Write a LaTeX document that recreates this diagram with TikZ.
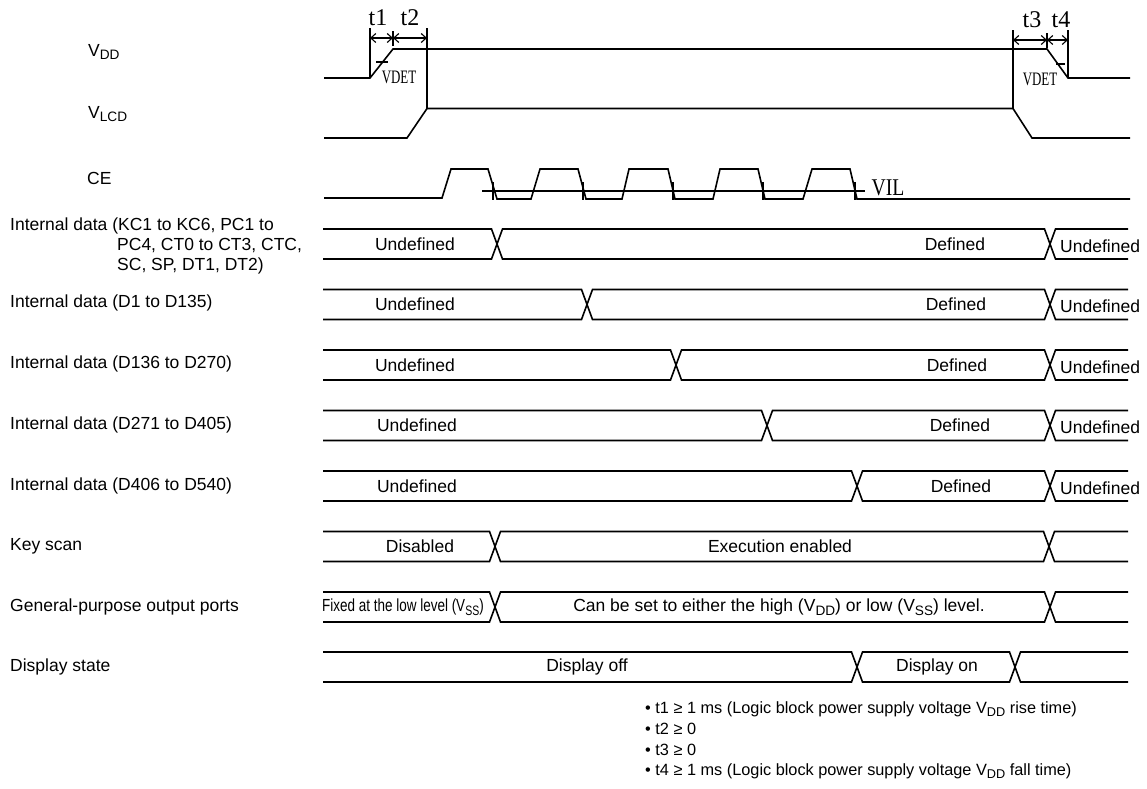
\documentclass[tikz,border=0pt]{standalone}
\usepackage{fontspec}
\setmainfont{Liberation Sans}
\newfontfamily\serifcond{Liberation Serif}
\usepackage{graphicx}
\usetikzlibrary{arrows.meta}
\newcommand\subs[1]{\raisebox{-0.22em}{\scalebox{0.78}{#1}}}
\newcommand\busrow[3]{%
 \draw[sig] (323,#1) -- ({#2-5.5},#1) -- ({#2+5.5},{#1+30}) -- ({#3-5.5},{#1+30}) -- ({#3+5.5},#1) -- (1128,#1);
 \draw[sig] (323,{#1+30}) -- ({#2-5.5},{#1+30}) -- ({#2+5.5},#1) -- ({#3-5.5},#1) -- ({#3+5.5},{#1+30}) -- (1128,{#1+30});}
\tikzset{
 sig/.style={line width=1.6pt, line join=miter},
 guide/.style={line width=1.1pt},
 lab/.style={inner sep=0pt, font=\fontsize{17.5}{21}\selectfont},
 lbl/.style={lab, anchor=west},
 note/.style={inner sep=0pt, anchor=west, font=\fontsize{16.3}{19}\selectfont},
 tlab/.style={inner sep=0pt, font=\serifcond\fontsize{24}{24}\selectfont},
 vdet/.style={inner sep=0pt, font=\serifcond\fontsize{19}{19}\selectfont},
 dim/.style={line width=1.1pt, {Straight Barb[length=5pt,width=9pt]}-{Straight Barb[length=5pt,width=9pt]}},
}
\begin{document}
\begin{tikzpicture}[x=1pt,y=-1pt]
\useasboundingbox (0,0) rectangle (1147,788);
% left labels
\node[lbl] (lvdd) at (88,52) {V\subs{DD}};
\node[lbl] (lvlcd) at (88,114) {V\subs{LCD}};
\node[lbl] (lce) at (87,178) {CE};
\node[lbl] (lkc1) at (10,226) {Internal data (KC1 to KC6, PC1 to};
\node[lbl] (lkc2) at (117,246) {PC4, CT0 to CT3, CTC,};
\node[lbl] (lkc3) at (117,266) {SC, SP, DT1, DT2)};
\node[lbl] (ld1) at (10,303) {Internal data (D1 to D135)};
\node[lbl] (ld2) at (10,364) {Internal data (D136 to D270)};
\node[lbl] (ld3) at (10,425) {Internal data (D271 to D405)};
\node[lbl] (ld4) at (10,486) {Internal data (D406 to D540)};
\node[lbl] (lks) at (10,546) {Key scan};
\node[lbl] (lgp) at (10,607) {General-purpose output ports};
\node[lbl] (lds) at (10,667) {Display state};
% VDD and VLCD
\draw[sig] (324,78) -- (370,78) -- (393,49) -- (1047,49) -- (1068,78) -- (1130,78);
\draw[sig] (324,138) -- (407,138) -- (427,108.5) -- (1013,108.5) -- (1032,138) -- (1130,138);
% timing marks
\draw[guide] (370,28) -- (370,78);
\draw[guide] (427,28) -- (427,108.5);
\draw[guide] (393,31) -- (393,46);
\draw[dim] (370,38) -- (393,38);
\draw[dim] (393,38) -- (427,38);
\draw[guide] (1013,30) -- (1013,108.5);
\draw[guide] (1068,30) -- (1068,78);
\draw[guide] (1047,33) -- (1047,48);
\draw[dim] (1013,40) -- (1047,40);
\draw[dim] (1047,40) -- (1068,40);
\draw[guide] (376,62) -- (388,62);
\draw[guide] (1056,64) -- (1065,64);
\node[tlab] (t1) at (378,18) {t1};
\node[tlab] (t2) at (410,18) {t2};
\node[tlab] (t3) at (1032,20) {t3};
\node[tlab] (t4) at (1061,20) {t4};
\node[vdet] (vdetl) at (399,77) {\scalebox{0.68}[1]{VDET}};
\node[vdet] (vdetr) at (1040,79) {\scalebox{0.68}[1]{VDET}};
% CE
\draw[sig] (324,198) -- (442,198) -- (451,169) -- (488,169) -- (497,199) -- (531,199) -- (540,169) -- (578,169) -- (586,199) -- (622,199) -- (629,169) -- (668,169) -- (675,199) -- (713,199) -- (720,169) -- (758,169) -- (765,199) -- (803,199) -- (812,169) -- (850,169) -- (857,199) -- (1130,199);
\draw[guide] (482,191) -- (865,191);
\foreach \x in {493,583,673,763,855} \draw[guide] (\x,182) -- (\x,200);
\node[tlab] (vil) at (888,188) {\scalebox{0.82}[1]{VIL}};
% bus rows
\busrow{229}{497}{1050}
\busrow{289.5}{587}{1050}
\busrow{350}{676}{1050}
\busrow{410.5}{767}{1050}
\busrow{471}{857}{1050}
\busrow{531.5}{495}{1049}
\busrow{592}{495}{1050}
\busrow{652}{857}{1015}
% row texts
\node[lab] (u1) at (415,244) {Undefined};
\node[lab] (d1) at (955,244) {Defined};
\node[lab,anchor=west] (e1) at (1060,246) {Undefined};
\node[lab] (u2) at (415,304.5) {Undefined};
\node[lab] (d2) at (956,304.5) {Defined};
\node[lab,anchor=west] (e2) at (1060,306.5) {Undefined};
\node[lab] (u3) at (415,365) {Undefined};
\node[lab] (d3) at (957,365) {Defined};
\node[lab,anchor=west] (e3) at (1060,367) {Undefined};
\node[lab] (u4) at (417,425.5) {Undefined};
\node[lab] (d4) at (960,425.5) {Defined};
\node[lab,anchor=west] (e4) at (1060,427.5) {Undefined};
\node[lab] (u5) at (417,486) {Undefined};
\node[lab] (d5) at (961,486) {Defined};
\node[lab,anchor=west] (e5) at (1060,488) {Undefined};
\node[lab] (ks1) at (420,546.5) {Disabled};
\node[lab] (ks2) at (780,546.5) {Execution enabled};
\node[lab,anchor=west] (gp1) at (322,607) {\scalebox{0.77}[1]{Fixed at the low level (V\subs{SS})}};
\node[lab] (gp2) at (779,607) {Can be set to either the high (V\subs{DD}) or low (V\subs{SS}) level.};
\node[lab] (ds1) at (587,667) {Display off};
\node[lab] (ds2) at (937,667) {Display on};
% notes
\node[note] (n1) at (645,709) {• t1 ≥ 1 ms (Logic block power supply voltage V\subs{DD} rise time)};
\node[note] (n2) at (645,729) {• t2 ≥ 0};
\node[note] (n3) at (645,750) {• t3 ≥ 0};
\node[note] (n4) at (645,771) {• t4 ≥ 1 ms (Logic block power supply voltage V\subs{DD} fall time)};
\end{tikzpicture}
\end{document}
